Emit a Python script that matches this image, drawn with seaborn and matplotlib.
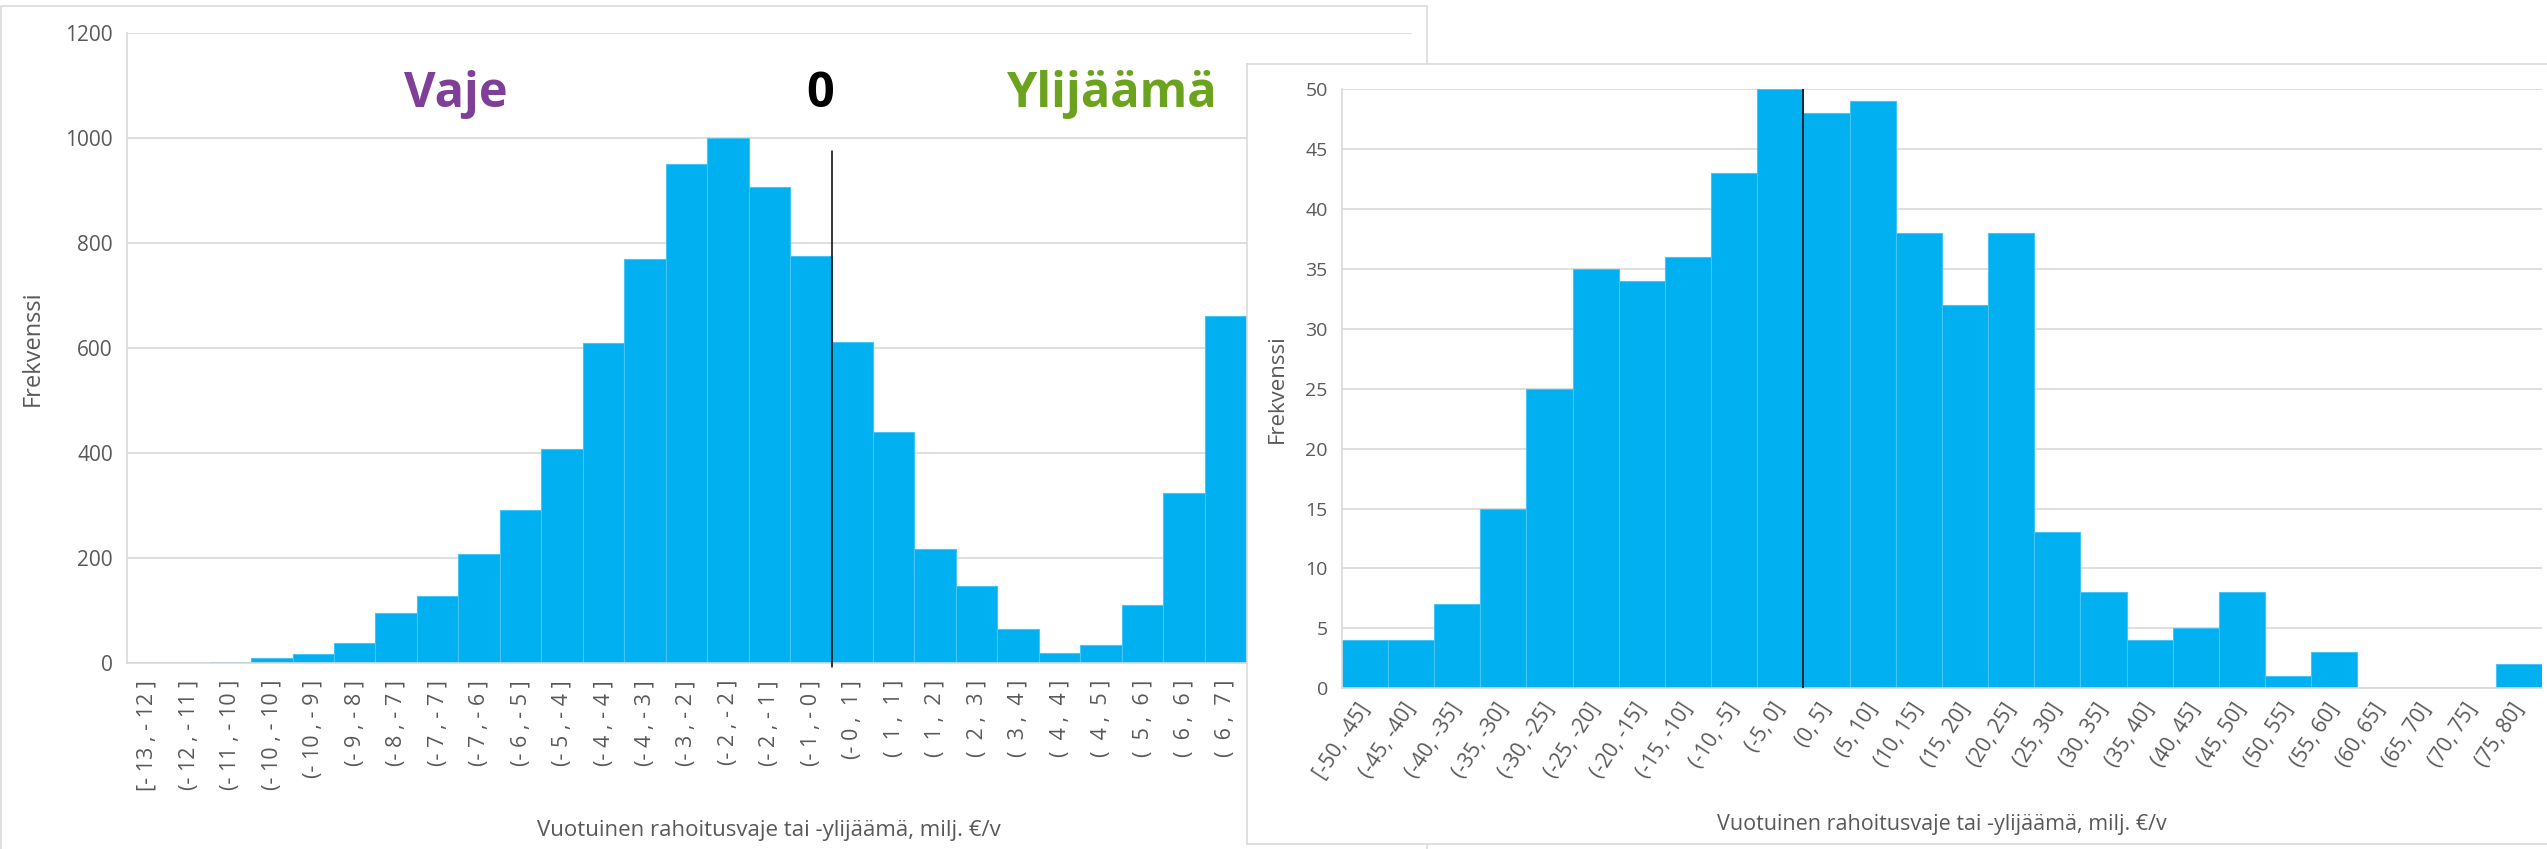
import matplotlib
matplotlib.use("Agg")
import matplotlib.pyplot as plt
import seaborn as sns
import pandas as pd
from matplotlib.patches import Rectangle

# ---------------- data ----------------
left_labels = [
    "[- 13 , - 12 ]", "(- 12 , - 11 ]", "(- 11 , - 10 ]", "(- 10 , - 10 ]",
    "(- 10 , - 9 ]", "(- 9 , - 8 ]", "(- 8 , - 7 ]", "(- 7 , - 7 ]",
    "(- 7 , - 6 ]", "(- 6 , - 5 ]", "(- 5 , - 4 ]", "(- 4 , - 4 ]",
    "(- 4 , - 3 ]", "(- 3 , - 2 ]", "(- 2 , - 2 ]", "(- 2 , - 1 ]",
    "(- 1 , - 0 ]", "(- 0 ,  1 ]", "(  1 ,  1 ]", "(  1 ,  2 ]",
    "(  2 ,  3 ]", "(  3 ,  4 ]", "(  4 ,  4 ]", "(  4 ,  5 ]",
    "(  5 ,  6 ]", "(  6 ,  6 ]", "(  6 ,  7 ]", "(  7 ,  8 ]",
]
left_counts = [0, 0, 2, 10, 17, 39, 96, 128, 208, 292, 408, 611, 771, 951,
               1000, 908, 776, 612, 441, 218, 148, 66, 20, 35, 111, 324, 662, 555]
left_yticks = [0, 200, 400, 600, 800, 1000, 1200]

right_labels = [
    "[-50, -45]", "(-45, -40]", "(-40, -35]", "(-35, -30]", "(-30, -25]",
    "(-25, -20]", "(-20, -15]", "(-15, -10]", "(-10, -5]", "(-5, 0]",
    "(0, 5]", "(5, 10]", "(10, 15]", "(15, 20]", "(20, 25]", "(25, 30]",
    "(30, 35]", "(35, 40]", "(40, 45]", "(45, 50]", "(50, 55]", "(55, 60]",
    "(60, 65]", "(65, 70]", "(70, 75]", "(75, 80]",
]
right_counts = [4, 4, 7, 15, 25, 35, 34, 36, 43, 50, 48, 49, 38, 32, 38, 13,
                8, 4, 5, 8, 1, 3, 0, 0, 0, 2]
right_yticks = [0, 5, 10, 15, 20, 25, 30, 35, 40, 45, 50]

xlabel_text = "Vuotuinen rahoitusvaje tai -ylijäämä, milj. €/v"
ylabel_text = "Frekvenssi"

# ---------------- style ----------------
sns.set_style("white")
plt.rcParams["font.family"] = ["Open Sans", "DejaVu Sans"]

BAR = "#00B0F0"
BAR_EDGE = "#45C5F3"
GRID = "#D9D9D9"
TXT = "#595959"

W, H = 2547, 849
fig = plt.figure(figsize=(W / 100, H / 100), dpi=100)
fig.patch.set_facecolor("white")


def frac(left, top, right, bottom):
    return [left / W, (H - bottom) / H, (right - left) / W, (bottom - top) / H]


# left chart frame
fig.patches.append(Rectangle((0.5 / W, -0.1), 1426.5 / W, 1.1 - 6 / H,
                             transform=fig.transFigure, facecolor="white",
                             edgecolor=GRID, lw=1.1, zorder=0.5))

# ---------------- left chart ----------------
ax1 = fig.add_axes(frac(126.7, 33.3, 1412, 663.3))
ax1.set_zorder(1)
df_left = pd.DataFrame({"bin": left_labels, "count": left_counts})
sns.barplot(data=df_left, x="bin", y="count", order=left_labels, ax=ax1,
            color=BAR, saturation=1, width=1.0, edgecolor=BAR_EDGE, linewidth=0.8)
ax1.set_xlim(-0.5, 30.5)
ax1.set_ylim(0, 1200)
ax1.set_yticks(left_yticks)
ax1.set_yticklabels([str(v) for v in left_yticks])
ax1.yaxis.grid(True, color=GRID, lw=1.2)
ax1.set_axisbelow(True)
for s in ["top", "right"]:
    ax1.spines[s].set_visible(False)
for s in ["left", "bottom"]:
    ax1.spines[s].set_color(GRID)
    ax1.spines[s].set_linewidth(1.2)
ax1.tick_params(axis="both", length=0)
ax1.tick_params(axis="y", labelsize=15, labelcolor=TXT, pad=10)
ax1.tick_params(axis="x", labelsize=15.5, labelcolor=TXT, pad=12)
for lab in ax1.get_xticklabels():
    lab.set_rotation(90)
    lab.set_va("top")
    lab.set_ha("center")
ax1.set_xlabel(xlabel_text, fontsize=16, color=TXT)
ax1.set_ylabel(ylabel_text, fontsize=17, color=TXT)
ax1.xaxis.set_label_coords(0.5, -0.248)
ax1.yaxis.set_label_coords(-0.064, 0.5)
ax1.plot([16.5, 16.5], [-7, 976], color="black", lw=1.1, clip_on=False, zorder=5)
ax1.text(7.44, 1060, "Vaje", ha="center", va="baseline", fontsize=35,
         fontweight="bold", color="#7F3F98")
ax1.text(16.22, 1060, "0", ha="center", va="baseline", fontsize=35,
         fontweight="bold", color="black")
ax1.text(23.24, 1060, "Ylijäämä", ha="center", va="baseline", fontsize=35,
         fontweight="bold", color="#6BA31F")

# ---------------- right chart frame ----------------
axbg = fig.add_axes(frac(1247, 64, 2560, 844))
axbg.set_zorder(2)
axbg.set_facecolor("white")
axbg.set_xticks([])
axbg.set_yticks([])
for s in ["left", "top", "bottom"]:
    axbg.spines[s].set_color(GRID)
    axbg.spines[s].set_linewidth(1.1)
axbg.spines["right"].set_visible(False)

# ---------------- right chart ----------------
ax2 = fig.add_axes(frac(1341.7, 89, 2542, 688.3))
ax2.set_zorder(3)
df_right = pd.DataFrame({"bin": right_labels, "count": right_counts})
sns.barplot(data=df_right, x="bin", y="count", order=right_labels, ax=ax2,
            color=BAR, saturation=1, width=1.0, edgecolor=BAR_EDGE, linewidth=0.8)
ax2.set_xlim(-0.5, 25.5)
ax2.set_ylim(0, 50)
ax2.set_yticks(right_yticks)
ax2.set_yticklabels([str(v) for v in right_yticks])
ax2.yaxis.grid(True, color=GRID, lw=1.2)
ax2.set_axisbelow(True)
for s in ["top", "right"]:
    ax2.spines[s].set_visible(False)
for s in ["left", "bottom"]:
    ax2.spines[s].set_color(GRID)
    ax2.spines[s].set_linewidth(1.2)
ax2.tick_params(axis="both", length=0)
ax2.tick_params(axis="y", labelsize=14, labelcolor=TXT, pad=10)
ax2.tick_params(axis="x", labelsize=15, labelcolor=TXT, pad=12)
for lab in ax2.get_xticklabels():
    lab.set_rotation(57)
    lab.set_rotation_mode("anchor")
    lab.set_ha("right")
    lab.set_va("center")
ax2.set_xlabel(xlabel_text, fontsize=15.5, color=TXT)
ax2.set_ylabel(ylabel_text, fontsize=16, color=TXT)
ax2.xaxis.set_label_coords(0.5, -0.21)
ax2.yaxis.set_label_coords(-0.045, 0.5)
ax2.plot([9.5, 9.5], [0, 50], color="black", lw=1.1, zorder=5)

fig.savefig("out.png", dpi=100, facecolor="white")
